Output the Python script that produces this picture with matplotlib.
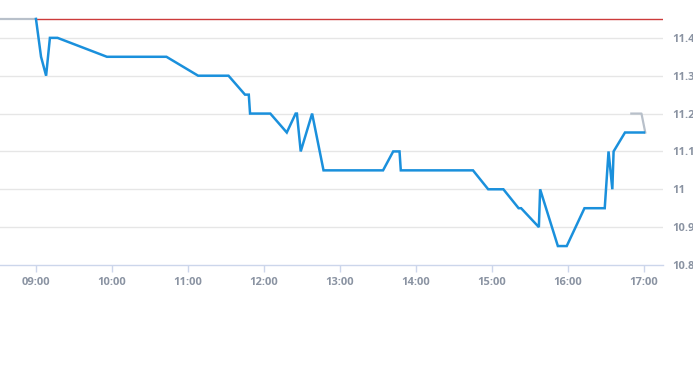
import matplotlib
matplotlib.use("Agg")
import matplotlib.pyplot as plt

# times as "HH:MM", prices
times = ["09:00", "09:04", "09:08", "09:11", "09:17", "09:56", "10:43", "11:08", "11:32",
         "11:45", "11:48", "11:49", "12:05", "12:18", "12:25", "12:26", "12:29", "12:38",
         "12:47", "13:34", "13:42", "13:47", "13:48", "14:45", "14:57", "15:09", "15:21",
         "15:23", "15:37", "15:38", "15:52", "15:59", "16:13", "16:29", "16:32", "16:35",
         "16:36", "16:45", "17:00"]
prices = [11.45, 11.35, 11.30, 11.40, 11.40, 11.35, 11.35, 11.30, 11.30,
          11.25, 11.25, 11.20, 11.20, 11.15, 11.20, 11.20, 11.10, 11.20,
          11.05, 11.05, 11.10, 11.10, 11.05, 11.05, 11.00, 11.00, 10.95,
          10.95, 10.90, 11.00, 10.85, 10.85, 10.95, 10.95, 11.10, 11.00,
          11.10, 11.15, 11.15]

pre_times = ["08:30", "09:00"]
pre_prices = [11.45, 11.45]
post_times = ["16:50", "16:58", "17:01"]
post_prices = [11.20, 11.20, 11.15]

prev_close = 11.45

xtick_labels = ["09:00", "10:00", "11:00", "12:00", "13:00", "14:00", "15:00", "16:00", "17:00"]
ytick_values = [10.8, 10.9, 11.0, 11.1, 11.2, 11.3, 11.4]
ytick_labels = ["10.8", "10.9", "11", "11.1", "11.2", "11.3", "11.4"]


def to_min(t):
    h, m = t.split(":")
    return (int(h) - 9) * 60 + int(m)


fig = plt.figure(figsize=(6.93, 3.65), dpi=100)
ax = fig.add_axes([0.0, 0.274, 663 / 693, 0.726])

label_color = "#8a93a2"
grid_color = "#e6e6e6"

for v in ytick_values[1:]:
    ax.axhline(v, color=grid_color, lw=1, zorder=1)

xs = [to_min(t) for t in times]
ax.plot([to_min(t) for t in pre_times], pre_prices, color="#b8c0ca", lw=1.6, zorder=3)
ax.plot([to_min(t) for t in post_times], post_prices, color="#b8c0ca", lw=1.6, zorder=3)
ax.plot([0, 600], [prev_close, prev_close], color="#cc3b3b", lw=1, zorder=2)
ax.plot(xs, prices, color="#1a90dc", lw=1.8, zorder=4, solid_joinstyle="miter")

ax.set_xlim(-28.4, 495)
ax.set_ylim(10.8, 11.5)

for s in ["top", "left", "right"]:
    ax.spines[s].set_visible(False)
ax.spines["bottom"].set_color("#ccd6eb")
ax.spines["bottom"].set_linewidth(1)

ax.set_xticks([to_min(t) for t in xtick_labels])
ax.set_xticklabels(xtick_labels)
ax.tick_params(axis="x", length=5, width=1, color="#ccd6eb", pad=4,
               labelsize=8, labelcolor=label_color)

ax.yaxis.tick_right()
ax.set_yticks(ytick_values)
ax.set_yticklabels(ytick_labels)
ax.tick_params(axis="y", length=0, pad=6.5, labelsize=8, labelcolor=label_color)

for lab in ax.get_xticklabels() + ax.get_yticklabels():
    lab.set_fontfamily("Open Sans")
    lab.set_fontweight("bold")

fig.savefig("out.png", dpi=100)
